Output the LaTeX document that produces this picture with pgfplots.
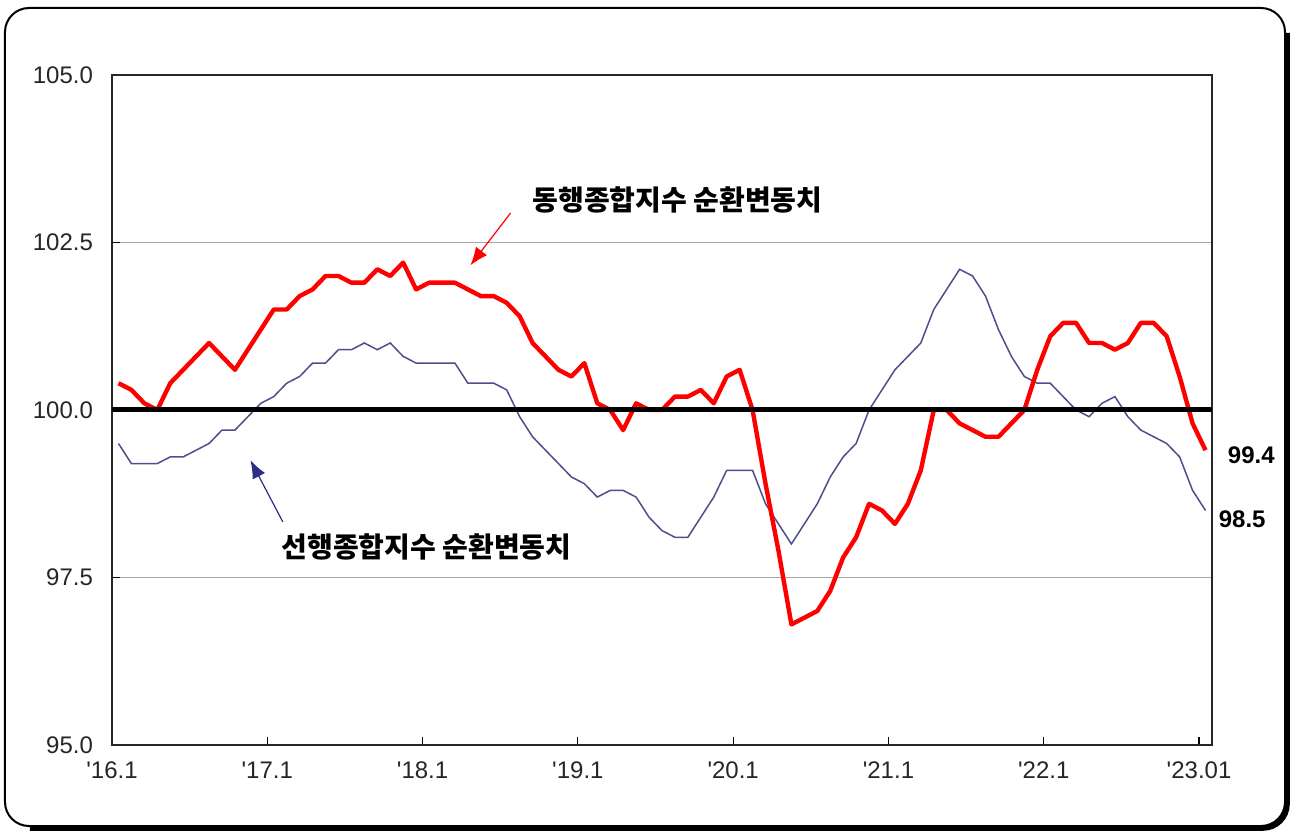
\documentclass[border=0pt]{standalone}
\usepackage{fontspec}
\setmainfont{Liberation Sans}
\newfontfamily\kr{Noto Sans CJK KR}
\usepackage{pgfplots}
\pgfplotsset{compat=1.18}
\usepackage{pgfplotstable}
\usetikzlibrary{arrows.meta}

\definecolor{leadblue}{RGB}{78,78,140}
\definecolor{arrowblue}{RGB}{45,45,130}
\newcommand{\yr}[1]{\textquotesingle #1}

% x = month index + 0.5 (Excel style: points sit between tick marks)
\pgfplotstableread{
x    lead   coin
0.5  99.5   100.4
1.5  99.2   100.3
2.5  99.2   100.1
3.5  99.2   100.0
4.5  99.3   100.4
5.5  99.3   100.6
6.5  99.4   100.8
7.5  99.5   101.0
8.5  99.7   100.8
9.5  99.7   100.6
10.5 99.9   100.9
11.5 100.1  101.2
12.5 100.2  101.5
13.5 100.4  101.5
14.5 100.5  101.7
15.5 100.7  101.8
16.5 100.7  102.0
17.5 100.9  102.0
18.5 100.9  101.9
19.5 101.0  101.9
20.5 100.9  102.1
21.5 101.0  102.0
22.5 100.8  102.2
23.5 100.7  101.8
24.5 100.7  101.9
25.5 100.7  101.9
26.5 100.7  101.9
27.5 100.4  101.8
28.5 100.4  101.7
29.5 100.4  101.7
30.5 100.3  101.6
31.5 99.9   101.4
32.5 99.6   101.0
33.5 99.4   100.8
34.5 99.2   100.6
35.5 99.0   100.5
36.5 98.9   100.7
37.5 98.7   100.1
38.5 98.8   100.0
39.5 98.8   99.7
40.5 98.7   100.1
41.5 98.4   100.0
42.5 98.2   100.0
43.5 98.1   100.2
44.5 98.1   100.2
45.5 98.4   100.3
46.5 98.7   100.1
47.5 99.1   100.5
48.5 99.1   100.6
49.5 99.1   100.0
50.5 98.6   98.9
51.5 98.3   97.9
52.5 98.0   96.8
53.5 98.3   96.9
54.5 98.6   97.0
55.5 99.0   97.3
56.5 99.3   97.8
57.5 99.5   98.1
58.5 100.0  98.6
59.5 100.3  98.5
60.5 100.6  98.3
61.5 100.8  98.6
62.5 101.0  99.1
63.5 101.5  100.0
64.5 101.8  100.0
65.5 102.1  99.8
66.5 102.0  99.7
67.5 101.7  99.6
68.5 101.2  99.6
69.5 100.8  99.8
70.5 100.5  100.0
71.5 100.4  100.6
72.5 100.4  101.1
73.5 100.2  101.3
74.5 100.0  101.3
75.5 99.9   101.0
76.5 100.1  101.0
77.5 100.2  100.9
78.5 99.9   101.0
79.5 99.7   101.3
80.5 99.6   101.3
81.5 99.5   101.1
82.5 99.3   100.5
83.5 98.8   99.8
84.5 98.5   99.4
}\cycledata

\begin{document}
\begin{tikzpicture}[x=1pt,y=1pt]
\useasboundingbox (-56pt,-43pt) rectangle (589.5pt,372.5pt);
\begin{axis}[
    at={(0pt,0pt)}, anchor=south west,
    scale only axis,
    width=550pt, height=335pt,
    xmin=0, xmax=85, ymin=95, ymax=105,
    xtick={0,12,...,84},
    xticklabels={\yr{16.1},\yr{17.1},\yr{18.1},\yr{19.1},\yr{20.1},\yr{21.1},\yr{22.1},\yr{23.01}},
    ytick={95,97.5,100,102.5,105},
    yticklabels={95.0,97.5,100.0,102.5,105.0},
    tick pos=left,
    tick align=inside,
    major tick length=4pt,
    ymajorgrids,
    grid style={black!35, line width=0.5pt},
    axis line style={black!85, line width=0.8pt},
    tick style={black, line width=0.6pt},
    ticklabel style={font=\fontsize{12}{14}\selectfont, text=black!85},
    xticklabel style={yshift=-5pt},
    yticklabel style={xshift=-6pt},
    clip=false,
]
\addplot[leadblue, line width=0.75pt, no marks] table[x=x, y=lead] {\cycledata};
\addplot[red, line width=2.2pt, no marks, line join=round] table[x=x, y=coin] {\cycledata};
\addplot[black, line width=2.5pt, no marks] coordinates {(0,100) (85,100)};

\node[font=\kr\bfseries\fontsize{14}{16}\selectfont] at (axis cs:43.7,103.13) {동행종합지수 순환변동치};
\node[font=\kr\bfseries\fontsize{14}{16}\selectfont] at (axis cs:24.3,97.96) {선행종합지수 순환변동치};
\draw[red, line width=0.6pt, -{Latex[length=9pt,width=7pt]}] (axis cs:30.8,102.94) -- (axis cs:27.7,102.16);
\draw[arrowblue, line width=0.6pt, -{Latex[length=9pt,width=7pt]}] (axis cs:13.2,98.33) -- (axis cs:10.7,99.25);

\node[font=\bfseries\fontsize{12}{14}\selectfont, anchor=west, inner sep=0pt] at (axis cs:86.2,99.33) {99.4};
\node[font=\bfseries\fontsize{12}{14}\selectfont, anchor=west, inner sep=0pt] at (axis cs:85.5,98.37) {98.5};
\end{axis}

% rounded frame with a heavier shadow edge
\draw[line width=1pt, rounded corners=12pt] (-53.5pt,-40.5pt) rectangle (586.5pt,368.5pt);
\draw[line width=2.8pt, rounded corners=12pt] (587.5pt,356pt) -- (587.5pt,-41.5pt) -- (-41pt,-41.5pt);
\end{tikzpicture}
\end{document}
